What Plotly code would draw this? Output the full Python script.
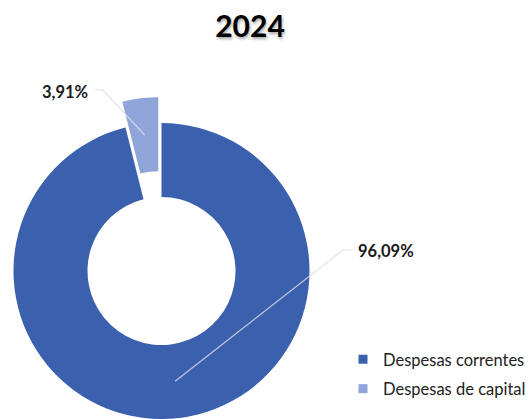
import math
import plotly.graph_objects as go

# ---- data ----
categories = ["Despesas correntes", "Despesas de capital"]
values = [96.09, 3.91]
title_text = "2024"

# ---- style ----
W, H = 531, 419
colors = ["#3B60AE", "#8FA5DA"]
cx, cy, R = 161.5, 271.0, 148.0   # pie centre / radius in pixels
hole = 0.50
pull_px = 26.0                       # explode distance of the capital slice
font_family = "Lato"

def px_to_paper(x, y):
    return x / W, 1 - y / H

total = sum(values)
cum = [sum(values[:i]) for i in range(len(values))]
mids = [2 * math.pi * (cum[i] + values[i] / 2) / total for i in range(len(values))]

def domain(cxp, cyp):
    x0, y0 = px_to_paper(cxp - R, cyp + R)
    x1, y1 = px_to_paper(cxp + R, cyp - R)
    return dict(x=[max(0, x0), min(1, x1)], y=[max(0, y0), min(1, y1)])

fig = go.Figure()

# base ring: correntes visible
fig.add_trace(go.Pie(
    labels=categories, values=values, hole=hole, sort=False,
    direction="clockwise", rotation=0,
    marker=dict(colors=[colors[0], "rgba(0,0,0,0)"], line=dict(width=0)),
    textinfo="none", showlegend=False, hoverinfo="label+percent",
    domain=domain(cx, cy),
))

# exploded capital slice
dx = pull_px * math.sin(mids[1])
dy = -pull_px * math.cos(mids[1])
pcx, pcy = cx + dx, cy + dy
fig.add_trace(go.Pie(
    labels=categories, values=values, hole=hole, sort=False,
    direction="clockwise", rotation=0,
    marker=dict(colors=["rgba(0,0,0,0)", colors[1]], line=dict(width=0)),
    textinfo="none", showlegend=False, hoverinfo="label+percent",
    domain=domain(pcx, pcy),
))

# legend entries
for i, (cat, col) in enumerate(zip(categories, colors)):
    fig.add_trace(go.Scatter(
        x=[None], y=[None], mode="markers", name=cat,
        marker=dict(symbol="square", size=9, color=col),
        legendgroup=f"g{i}", showlegend=True,
    ))

# leader lines + labels
rm = R * (1 + hole) / 2
centres = [(cx, cy), (pcx, pcy)]
label_setup = [
    dict(elbow=(343, 250), end=(352, 250), tx=356, ty=251, anchor="left"),
    dict(elbow=(103, 90), end=(95, 90), tx=90, ty=92, anchor="right"),
]
shapes = []
annotations = []
for i in range(len(values)):
    ccx, ccy = centres[i]
    sx = ccx + rm * math.sin(mids[i])
    sy = ccy - rm * math.cos(mids[i])
    ls = label_setup[i]
    pts = [(sx, sy), ls["elbow"], ls["end"]]
    path = "M " + " L ".join(f"{px_to_paper(*p)[0]:.5f},{px_to_paper(*p)[1]:.5f}" for p in pts)
    shapes.append(dict(type="path", xref="paper", yref="paper", path=path,
                       line=dict(color="rgba(220,222,228,0.85)", width=1.2)))
    pct = values[i] / total * 100
    txt = f"{pct:.2f}".replace(".", ",") + "%"
    ax_, ay_ = px_to_paper(ls["tx"], ls["ty"])
    annotations.append(dict(text=f"<b>{txt}</b>", x=ax_, y=ay_, xref="paper", yref="paper",
                            xanchor=ls["anchor"], yanchor="middle", showarrow=False,
                            font=dict(family=font_family, size=16.5, color="#1a1a1a")))

tx, ty = px_to_paper(250, 26)
_, ly = px_to_paper(0, 342)
fig.update_layout(
    width=W, height=H,
    margin=dict(l=0, r=0, t=0, b=0),
    paper_bgcolor="white", plot_bgcolor="white",
    title=dict(text=title_text, x=tx, xanchor="center", y=ty, yanchor="middle",
               font=dict(family=font_family, size=30, color="black", weight="bold",
                         shadow="1px 2px 3px rgba(0,0,0,0.35)")),
    xaxis=dict(visible=False), yaxis=dict(visible=False),
    shapes=shapes, annotations=annotations,
    legend=dict(x=1, xanchor="right", y=ly, yanchor="top",
                font=dict(family=font_family, size=16.5, color="#222"),
                tracegroupgap=5, bgcolor="rgba(0,0,0,0)", itemwidth=30),
    showlegend=True,
)

fig.write_html(
    "out.html",
    config={"displayModeBar": False},
    post_script="document.body.style.margin='0';document.body.style.overflow='hidden';",
)
